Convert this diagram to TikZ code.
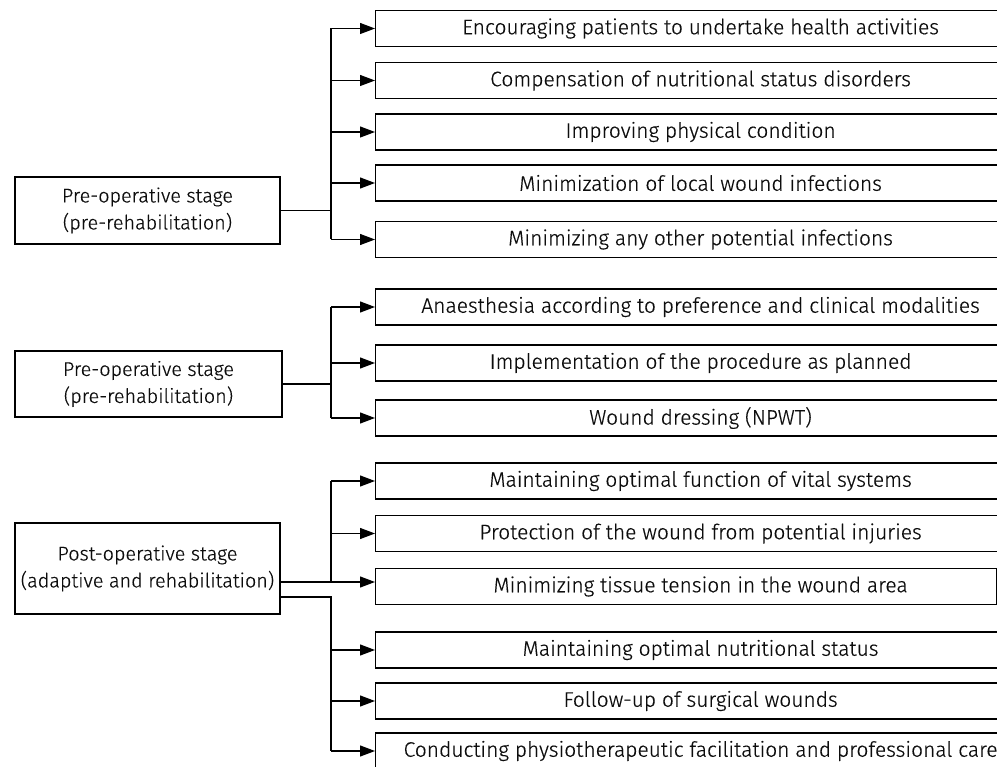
\documentclass[tikz,border=0pt]{standalone}
\usepackage{fontspec}
\setmainfont{Fira Sans}[UprightFont=* Light, FakeBold=0.4]
\usetikzlibrary{arrows.meta}
\begin{document}
\begin{tikzpicture}[x=1pt,y=-1pt,
  item/.style={draw, line width=1.2pt, minimum width=650pt, minimum height=36pt,
    anchor=west, inner sep=0pt, font=\fontsize{21}{25}\selectfont, text=black!95},
  stage/.style={draw, line width=1.2pt, inner sep=0pt, align=center,
    font=\fontsize{19.8}{27}\selectfont, text=black!95},
  arr/.style={-{Triangle[length=15pt,width=11pt]}, line width=1.2pt},
  conn/.style={line width=1.2pt}]
\useasboundingbox (0,0) rectangle (997,767);
\clip (0,0) rectangle (997,767);

% ---------- Group 1 ----------
\node[stage, minimum width=265pt, minimum height=67pt] (s1) at (147.5,210.5)
  {Pre-operative stage\\(pre-rehabilitation)};
\node[item] (a1) at (375,28.5) {Encouraging patients to undertake health activities};
\node[item] (a2) at (375,80.5) {Compensation of nutritional status disorders};
\node[item] (a3) at (375,132) {Improving physical condition};
\node[item] (a4) at (375,183) {Minimization of local wound infections};
\node[item] (a5) at (375,239.5) {Minimizing any other potential infections};
\coordinate (j1) at (331,210.5);
\draw[conn] (s1.east) -- (j1);
\draw[conn] (j1 |- a1.west) -- (j1 |- a5.west);
\foreach \n in {a1,a2,a3,a4,a5}
  \draw[arr] (j1 |- \n.west) -- (\n.west);

% ---------- Group 2 ----------
\node[stage, minimum width=267pt, minimum height=66pt] (s2) at (148.5,384)
  {Pre-operative stage\\(pre-rehabilitation)};
\node[item] (b1) at (375,307) {Anaesthesia according to preference and clinical modalities};
\node[item] (b2) at (375,363) {Implementation of the procedure as planned};
\node[item] (b3) at (375,418) {Wound dressing (NPWT)};
\coordinate (j2) at (331,384);
\draw[conn] (s2.east) -- (j2);
\draw[conn] (j2 |- b1.west) -- (j2 |- b3.west);
\foreach \n in {b1,b2,b3}
  \draw[arr] (j2 |- \n.west) -- (\n.west);

% ---------- Group 3 ----------
\node[stage, minimum width=265pt, minimum height=91pt] (s3) at (147.5,568.5)
  {Post-operative stage\\(adaptive and rehabilitation)};
\node[item] (c1) at (375,481) {Maintaining optimal function of vital systems};
\node[item] (c2) at (375,533.5) {Protection of the wound from potential injuries};
\node[item, minimum width=621pt] (c3) at (375,586.5) {\hspace*{29pt}Minimizing tissue tension in the wound area};
\node[item] (c4) at (375,650) {Maintaining optimal nutritional status};
\node[item] (c5) at (375,701) {Follow-up of surgical wounds};
\node[item] (c6) at (375,751) {Conducting physiotherapeutic facilitation and professional care};
\coordinate (j3) at (331,582);
\coordinate (j4) at (331,597);
\draw[arr] (s3.east |- j3) -- (c3.west |- j3);
\draw[conn] (j1 |- c1.west) -- (j3);
\draw[arr] (j3 |- c1.west) -- (c1.west);
\draw[arr] (j3 |- c2.west) -- (c2.west);
\draw[conn] (s3.east |- j4) -- (j4) -- (j4 |- c6.west);
\foreach \n in {c4,c5,c6}
  \draw[arr] (j4 |- \n.west) -- (\n.west);
\end{tikzpicture}
\end{document}
